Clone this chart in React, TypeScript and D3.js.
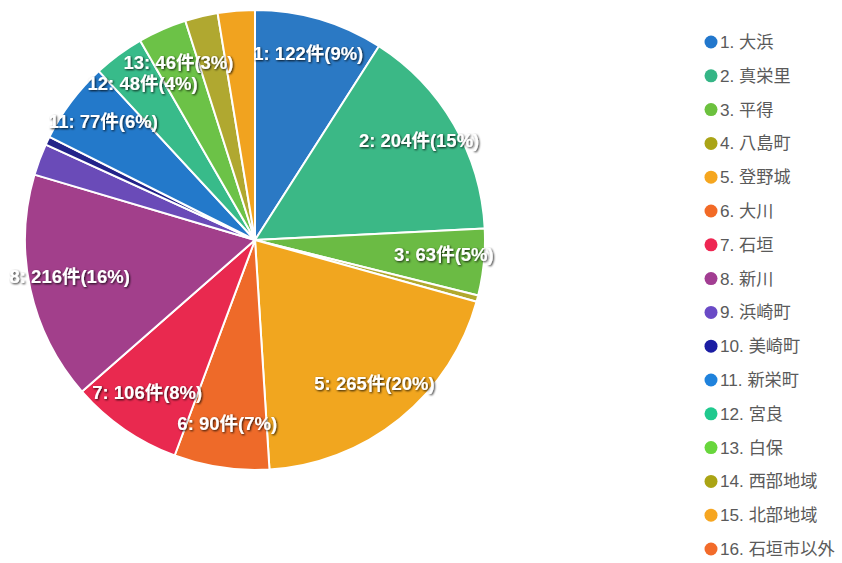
import React from "react";
import * as d3 from "d3";

const categories: string[] = [
  "大浜", "真栄里", "平得", "八島町", "登野城", "大川", "石垣", "新川",
  "浜崎町", "美崎町", "新栄町", "宮良", "白保", "西部地域", "北部地域", "石垣市以外",
];
const values: number[] = [122, 204, 63, 6, 265, 90, 106, 216, 30, 8, 77, 48, 46, 31, 35, 0];
const pieColors: string[] = [
  "#2b79c4", "#3bb886", "#6bbb44", "#b1a82e", "#f1a61f", "#ee6a29", "#e9294f", "#a23f8b",
  "#6a4bb8", "#222389", "#2379ca", "#38bb8a", "#6cc247", "#b0a830", "#f1a31f", "#ef6b2a",
];
const legendColors: string[] = [
  "#2277cc", "#35b586", "#6cc13e", "#aaa416", "#f5a61f", "#f26a26", "#ee2652", "#a23d92",
  "#6a4ac6", "#1b1da3", "#1f82dc", "#20c98e", "#68d63c", "#aaa414", "#f6a621", "#f26b2a",
];
const unit = "件";

const W = 842;
const H = 563;
const CX = 255;
const CY = 240;
const R = 230;
const FONT = "'Liberation Sans', Arial, 'Noto Sans CJK JP', sans-serif";

export default function App() {
  const total = d3.sum(values);
  const pie = d3
    .pie<number>()
    .sort(null)
    .value((d) => d)
    .startAngle(0)
    .endAngle(2 * Math.PI);
  const arcs = pie(values);
  const arc = d3.arc<d3.PieArcDatum<number>>().innerRadius(0).outerRadius(R);
  const labelArc = d3
    .arc<d3.PieArcDatum<number>>()
    .innerRadius(R * 0.825)
    .outerRadius(R * 0.825);

  const legendY = d3
    .scalePoint<number>()
    .domain(d3.range(categories.length))
    .range([42, 549]);

  return (
    <svg
      width={W}
      height={H}
      style={{ position: "absolute", left: 0, top: 0, background: "#fff" }}
    >
      <defs>
        <filter id="shadow" x="-20%" y="-50%" width="140%" height="200%">
          <feDropShadow dx="1" dy="1" stdDeviation="1.2" floodColor="#000" floodOpacity="0.85" />
        </filter>
      </defs>
      <g transform={`translate(${CX},${CY})`}>
        {arcs.map((a, i) =>
          a.value > 0 ? (
            <path
              key={i}
              d={arc(a) || ""}
              fill={pieColors[i]}
              stroke="#fff"
              strokeWidth={2}
              strokeLinejoin="round"
            />
          ) : null
        )}
        {arcs.map((a, i) => {
          if (a.value / total < 0.03) return null;
          const [x, y] = labelArc.centroid(a);
          const pct = Math.round((a.value / total) * 100);
          return (
            <text
              key={"l" + i}
              x={x}
              y={y - 4}
              textAnchor="middle"
              dominantBaseline="central"
              fill="#fff"
              fontFamily={FONT}
              fontWeight="bold"
              fontSize={18.5}
              filter="url(#shadow)"
            >
              {`${i + 1}: ${a.value}${unit}(${pct}%)`}
            </text>
          );
        })}
      </g>
      <g>
        {categories.map((c, i) => (
          <g key={"g" + i} transform={`translate(0,${legendY(i)})`}>
            <circle cx={711} cy={0} r={6.5} fill={legendColors[i]} />
            <text
              x={720}
              y={0}
              dominantBaseline="central"
              fill="#5a5a5a"
              fontFamily={FONT}
              fontSize={17.2}
            >
              {`${i + 1}. ${c}`}
            </text>
          </g>
        ))}
      </g>
    </svg>
  );
}
